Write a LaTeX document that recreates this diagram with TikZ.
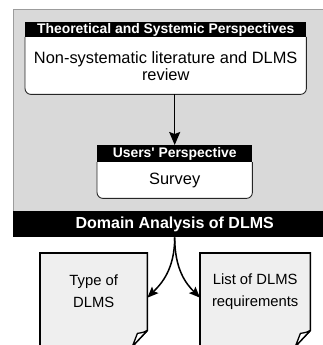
\documentclass[tikz,border=0pt]{standalone}
\usepackage{fontspec}
\setmainfont{Liberation Sans}
\usetikzlibrary{arrows.meta}
\pgfdeclarelayer{bg}
\pgfsetlayers{bg,main}
\definecolor{panelgray}{HTML}{D9D9D9}
\definecolor{paneledge}{HTML}{9C9C9C}
\definecolor{paper}{HTML}{EFEFEF}
\begin{document}
\begin{tikzpicture}[x=1pt,y=-1pt,
  panelbox/.style={fill=panelgray,draw=paneledge,line width=0.9pt},
  hdr/.style={fill=black,text=white,inner sep=0pt,anchor=north west,
    font=\fontsize{13.9}{15}\selectfont\bfseries},
  bodytxt/.style={inner sep=0pt,align=center,anchor=north west,
    font=\fontsize{16.4}{17}\selectfont},
  boxline/.style={draw=black!85,line width=0.9pt,fill=white,rounded corners=6pt},
  bar/.style={fill=black,text=white,inner sep=0pt,anchor=north west,
    font=\fontsize{16}{18}\selectfont\bfseries},
  doctxt/.style={inner sep=0pt,align=center,anchor=north west,
    font=\fontsize{14.8}{22}\selectfont},
  docline/.style={draw=black,line width=1.6pt,fill=paper,line join=miter},
  flap/.style={draw=black,line width=1.3pt,fill=white,line join=round},
  arr/.style={draw=black,line width=1.5pt,-{Stealth[length=13pt,width=11pt,inset=2pt]}},
  carr/.style={draw=black,line width=1.5pt,-{Stealth[length=11pt,width=9pt,inset=2pt]}}
]
\useasboundingbox (0,0) rectangle (323,345);

% theoretical perspective
\node[hdr,minimum width=281pt,minimum height=15pt] (theo) at (25,22) {Theoretical and Systemic Perspectives};
\node[bodytxt,minimum width=281pt,minimum height=57pt] (lit) at (25,37) {Non-systematic literature and DLMS\\review};

% users' perspective
\node[hdr,minimum width=155pt,minimum height=17pt] (usersh) at (97,145) {Users\textquotesingle\ Perspective};
\node[bodytxt,minimum width=155pt,minimum height=36pt] (survey) at (97,162) {Survey};

% domain analysis bar
\node[bar,minimum width=323pt,minimum height=26pt] (domain) at (13,211) {Domain Analysis of DLMS};

% output documents
\node[doctxt,minimum width=107pt,minimum height=77pt] (kind) at (40,253) {Type of\\DLMS};
\node[doctxt,minimum width=110pt,minimum height=77pt] (reqs) at (200,253) {List of DLMS\\requirements};

\begin{pgfonlayer}{bg}
  % grey container
  \draw[panelbox] (13,9.5) rectangle (340,211);
  \draw[boxline] (lit.north west) -- (lit.south west) -- (lit.south east) -- (lit.north east);
  \draw[boxline] (survey.north west) -- (survey.south west) -- (survey.south east) -- (survey.north east);
  \foreach \d in {kind,reqs}{
    \draw[docline] (\d.north west) -- (\d.north east) -- (\d.south east)
      -- ([xshift=-15pt,yshift=-16pt]\d.south east) -- ([yshift=-16pt]\d.south west) -- cycle;
    \draw[flap] (\d.south east) .. controls ([xshift=-4pt,yshift=-2pt]\d.south east) .. ([xshift=-10pt,yshift=-3pt]\d.south east)
      -- ([xshift=-15pt,yshift=-16pt]\d.south east) -- cycle;
  }
\end{pgfonlayer}

% connectors
\draw[arr] (lit.south -| usersh.north) -- (usersh.north);
\draw[carr] (domain.south) .. controls +(0,32) and +(14,-14) .. ([yshift=-6pt]kind.east);
\draw[carr] (domain.south) .. controls +(0,32) and +(-14,-14) .. ([yshift=-6pt]reqs.west);
\end{tikzpicture}
\end{document}
